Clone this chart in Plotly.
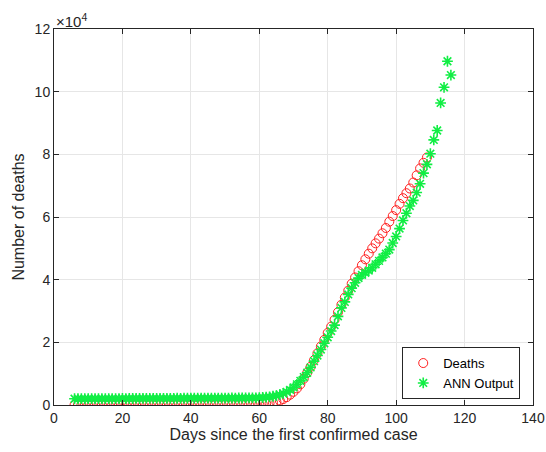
import plotly.graph_objects as go

death_days = list(range(6, 110))
deaths = ([0] * 35 +
          [1, 2, 6, 9, 11, 12, 15, 19, 22, 26,                              # 41-50
           30, 38, 41, 48, 57, 69, 86, 110, 150, 205,                       # 51-60
           300, 420, 560, 750, 1000, 1400, 1900, 2500, 3300, 4200,          # 61-70
           5300, 6600, 8400, 10300, 12200, 14300, 16500, 18700, 20800, 23000,  # 71-80
           25000, 27200, 29600, 32000, 34300, 36500, 38700, 40700, 42700, 44600,  # 81-90
           46500, 48300, 50000, 51600, 53100, 54800, 56500, 58500, 60300, 62200,  # 91-100
           64200, 66000, 67600, 69100, 71000, 73300, 75500, 77300, 79000])  # 101-109

ann_days = list(range(6, 117))
ann_output = ([2000, 2000, 2010, 2000, 2020, 2010, 2030, 2020, 2040, 2030,   # 6-15
               2050, 2040, 2060, 2050, 2070, 2060, 2080, 2070, 2090, 2080,   # 16-25
               2100, 2090, 2110, 2100, 2120, 2110, 2130, 2120, 2140, 2130,   # 26-35
               2150, 2140, 2160, 2150, 2170, 2160, 2180, 2170, 2190, 2180,   # 36-45
               2200, 2190, 2210, 2200, 2220, 2210, 2230, 2220, 2240, 2240,   # 46-55
               2250, 2260, 2280, 2300, 2320,                                  # 56-60
               2400, 2500, 2600, 2800, 3000, 3300, 3700, 4200, 4800, 5600,   # 61-70
               6600, 7700, 8900, 10300, 12000, 14000, 15800, 17700, 19700, 21600,  # 71-80
               23600, 25500, 28300, 31000, 32900, 35300, 37300, 39000, 40500, 41500,  # 81-90
               42200, 42900, 43800, 44900, 46000, 47100, 48300, 49600, 51700, 53800,  # 91-100
               56300, 58900, 61200, 63500, 65300, 67800, 70600, 74000, 76800,  # 101-109
               80200, 84600, 87600, 96400, 101400, 109700, 105300])           # 110-116

x_ticks = [0, 20, 40, 60, 80, 100, 120, 140]
y_ticks = [0, 20000, 40000, 60000, 80000, 100000, 120000]
y_tick_labels = ["0", "2", "4", "6", "8", "10", "12"]

font = "Liberation Sans, Arial, sans-serif"
fig = go.Figure()
fig.add_trace(go.Scatter(
    x=death_days, y=deaths, mode="markers", name="Deaths",
    marker=dict(symbol="circle-open", size=9, color="#ff2020",
                line=dict(width=1, color="#ff2020"))))
fig.add_trace(go.Scatter(
    x=ann_days, y=ann_output, mode="markers", name="ANN Output",
    marker=dict(symbol="asterisk-open", size=9, color="#11ee44",
                line=dict(width=1.6, color="#11ee44"))))

axis_common = dict(showline=True, linecolor="#262626", linewidth=1, mirror="ticks",
                   ticks="inside", ticklen=5, tickcolor="#262626", automargin=False,
                   showgrid=True, gridcolor="#e6e6e6", gridwidth=1, zeroline=False,
                   tickfont=dict(family=font, size=14, color="#262626"))
fig.update_xaxes(range=[0, 140], tickvals=x_ticks,
                 title=dict(text="Days since the first confirmed case",
                            font=dict(family=font, size=16, color="#262626"), standoff=2),
                 **axis_common)
fig.update_yaxes(range=[0, 120000], tickvals=y_ticks, ticktext=y_tick_labels,
                 title=dict(text="Number of deaths",
                            font=dict(family=font, size=16, color="#262626"), standoff=6),
                 **axis_common)
fig.add_annotation(text="×10<sup>4</sup>", xref="paper", yref="paper", x=0, y=1,
                   xanchor="left", yanchor="bottom", showarrow=False,
                   font=dict(family=font, size=15, color="#262626"), yshift=-3)
fig.update_layout(
    width=546, height=452, plot_bgcolor="white", paper_bgcolor="white",
    margin=dict(l=54, r=13, t=29, b=47),
    legend=dict(x=0.727, y=0.154, xanchor="left", yanchor="top",
                bgcolor="white", bordercolor="#262626", borderwidth=1,
                font=dict(family=font, size=13, color="#000000"),
                itemwidth=30, tracegroupgap=0),
    showlegend=True)
fig.write_html("out.html", config={"displayModeBar": False},
               post_script="document.body.style.margin='0';document.body.style.overflow='hidden';")
